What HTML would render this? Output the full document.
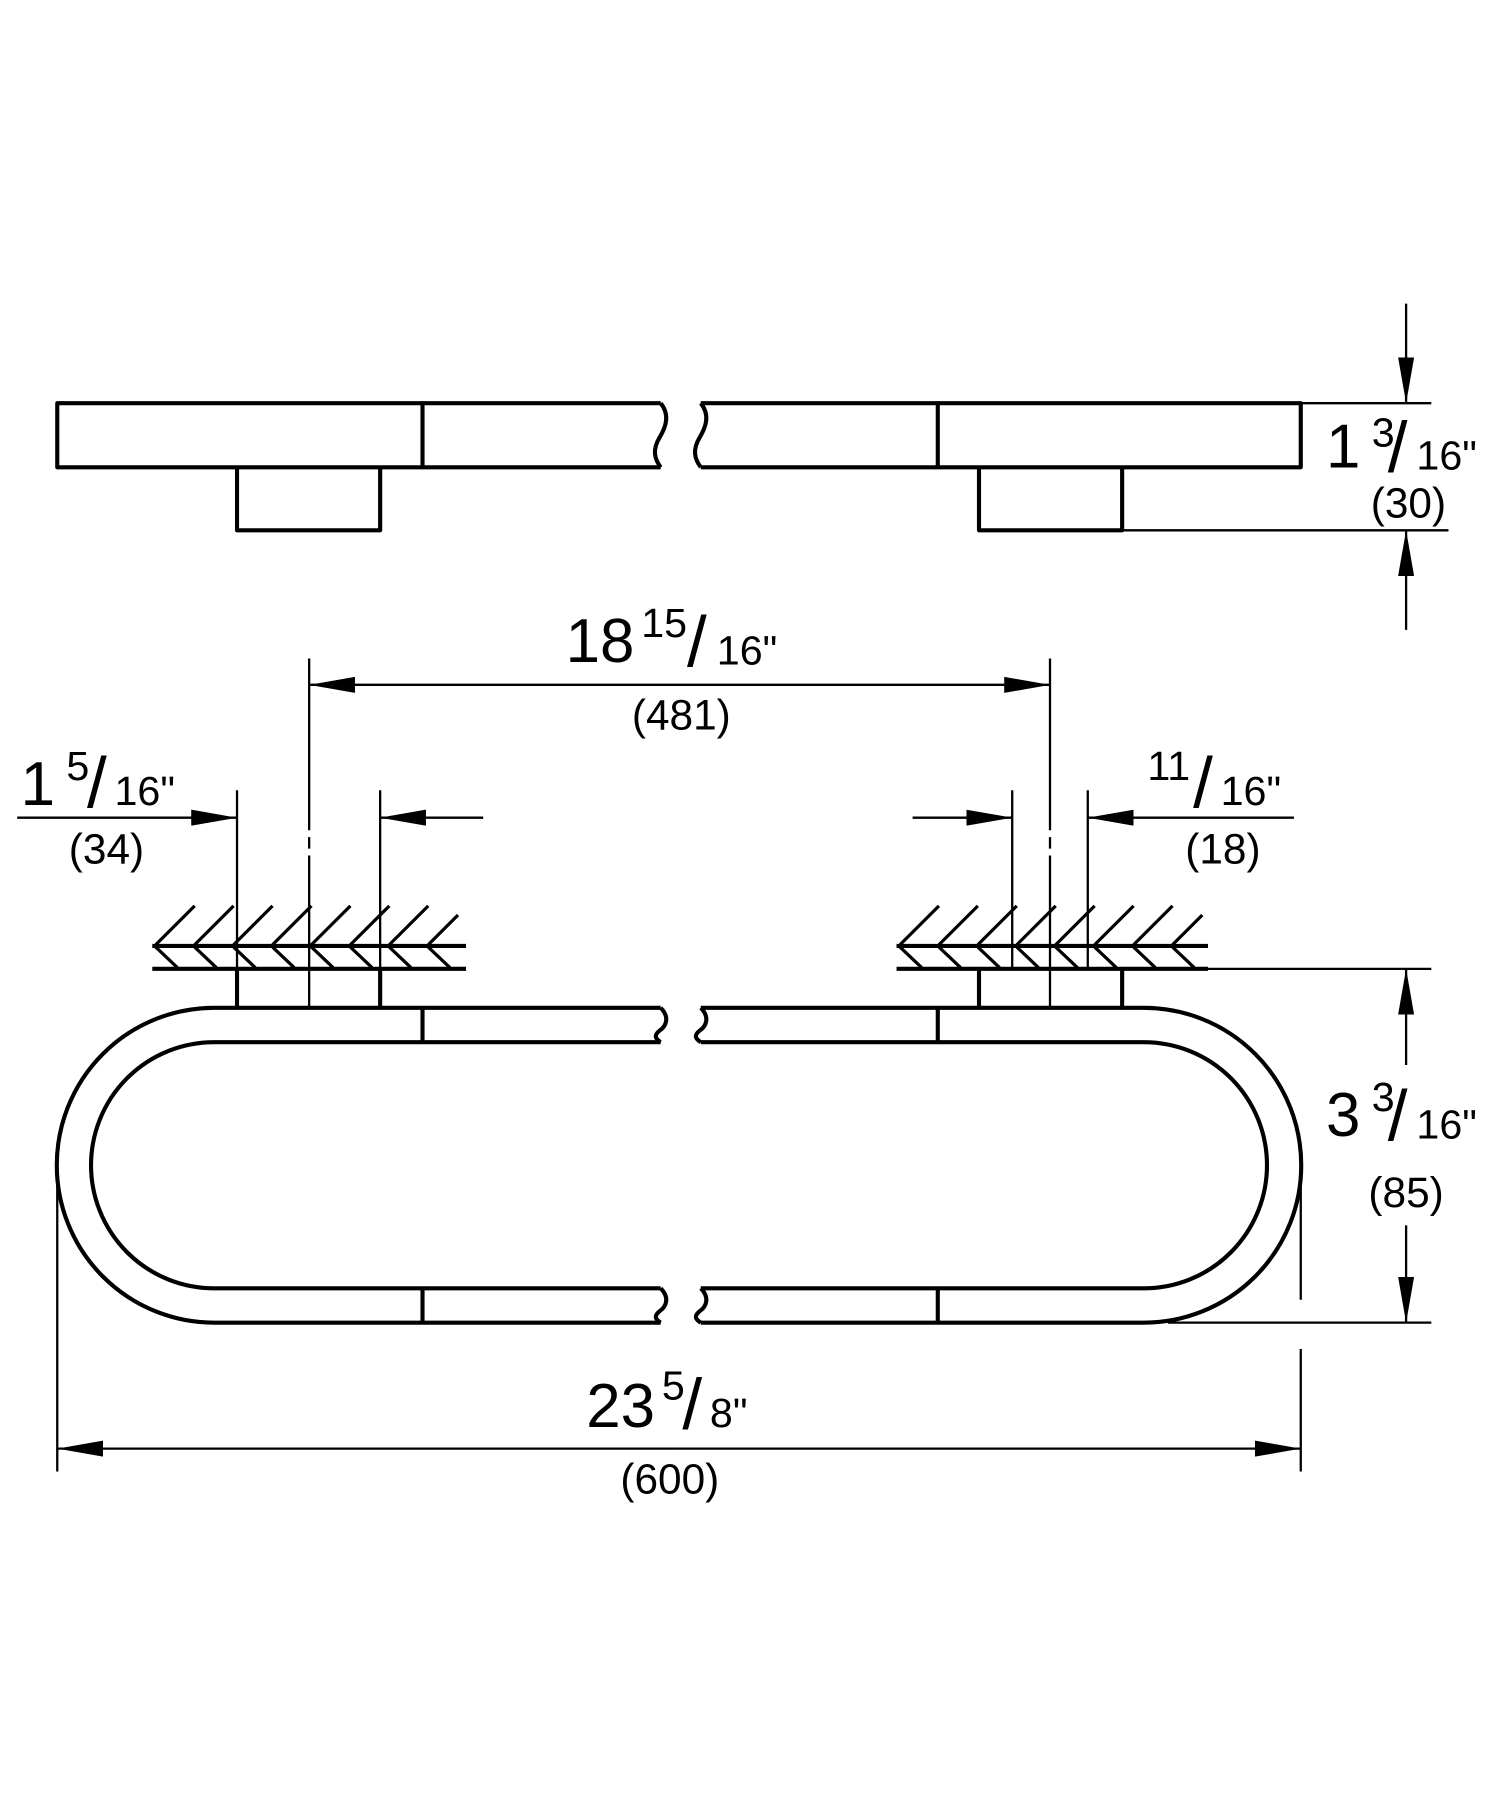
<!DOCTYPE html>
<html><head><meta charset="utf-8"><style>
html,body{margin:0;padding:0;background:#fff}
svg{display:block}
text{font-family:"Liberation Sans",sans-serif;fill:#000}
</style></head><body>
<svg width="1500" height="1798" viewBox="0 0 1310 1570" xmlns="http://www.w3.org/2000/svg">
<defs>
<marker id="a" viewBox="0 0 40 14" refX="40" refY="7" markerWidth="40" markerHeight="14" markerUnits="userSpaceOnUse" orient="auto"><path d="M0,0 L40,7 L0,14 z" fill="#000"/></marker>
</defs>
<g fill="none" stroke="#000" stroke-width="3.6" stroke-linejoin="round">
<path d="M577,352 L50,352 L50,408 L577,408"/>
<path d="M577,352 C585,362 582,372 576,382 C570,392 571,400 577,408"/>
<path d="M612,352 L1136,352 L1136,408 L612,408"/>
<path d="M612,352 C620,362 617,372 611,382 C605,392 606,400 612,408"/>
<line x1="369" y1="352" x2="369" y2="408"/>
<line x1="819" y1="352" x2="819" y2="408"/>
<path d="M207,408 L207,463 L332,463 L332,408"/>
<path d="M855,408 L855,463 L980,463 L980,408"/>
<path d="M207,846 L207,880 M332,846 L332,880"/>
<path d="M855,846 L855,880 M980,846 L980,880"/>
<path d="M577,880 L187,880 A137,137 0 0 0 187,1155 L577,1155"/>
<path d="M612,880 L999,880 A137,137 0 0 1 999,1155 L612,1155"/>
<path d="M577,910 L187,910 A107,107 0 0 0 187,1125 L577,1125"/>
<path d="M612,910 L999,910 A107,107 0 0 1 999,1125 L612,1125"/>
<path d="M577,880 C585,888 582,896 576,900 C571,904 572,907 577,910"/>
<path d="M612,880 C620,888 617,896 611,900 C606,904 607,907 612,910"/>
<path d="M577,1125 C585,1133 582,1141 576,1145 C571,1149 572,1152 577,1155"/>
<path d="M612,1125 C620,1133 617,1141 611,1145 C606,1149 607,1152 612,1155"/>
<line x1="369" y1="880" x2="369" y2="910"/>
<line x1="819" y1="880" x2="819" y2="910"/>
<line x1="369" y1="1125" x2="369" y2="1155"/>
<line x1="819" y1="1125" x2="819" y2="1155"/>
<line x1="133" y1="826" x2="407" y2="826"/>
<line x1="133" y1="846" x2="407" y2="846"/>
<line x1="783" y1="826" x2="1055" y2="826"/>
<line x1="783" y1="846" x2="1055" y2="846"/>
</g>
<g stroke="#000" stroke-width="2.8" fill="none">
<path d="M136,825 L170,791 M136,827 L155,845 M170,825 L204,791 M170,827 L189,845 M204,825 L238,791 M204,827 L223,845 M238,825 L272,791 M238,827 L257,845 M272,825 L306,791 M272,827 L291,845 M306,825 L340,791 M306,827 L325,845 M340,825 L374,791 M340,827 L359,845 M374,825 L400,799 M374,827 L393,845"/>
<path d="M786,825 L820,791 M786,827 L805,845 M820,825 L854,791 M820,827 L839,845 M854,825 L888,791 M854,827 L873,845 M888,825 L922,791 M888,827 L907,845 M922,825 L956,791 M922,827 L941,845 M956,825 L990,791 M956,827 L975,845 M990,825 L1024,791 M990,827 L1009,845 M1024,825 L1050,799 M1024,827 L1043,845"/>
</g>
<g stroke="#000" stroke-width="2" fill="none">
<line x1="1136" y1="352" x2="1250" y2="352"/>
<line x1="980" y1="463" x2="1265" y2="463"/>
<line x1="1228" y1="265" x2="1228" y2="352" marker-end="url(#a)"/>
<line x1="1228" y1="550" x2="1228" y2="463" marker-end="url(#a)"/>
<line x1="917" y1="598" x2="270" y2="598" marker-end="url(#a)"/>
<line x1="270" y1="598" x2="917" y2="598" marker-end="url(#a)"/>
<line x1="270" y1="575" x2="270" y2="880" stroke-dasharray="150,6,10,6"/>
<line x1="917" y1="575" x2="917" y2="880" stroke-dasharray="150,6,10,6"/>
<line x1="15" y1="714" x2="207" y2="714" marker-end="url(#a)"/>
<line x1="422" y1="714" x2="332" y2="714" marker-end="url(#a)"/>
<line x1="207" y1="690" x2="207" y2="846"/>
<line x1="332" y1="690" x2="332" y2="846"/>
<line x1="797" y1="714" x2="884" y2="714" marker-end="url(#a)"/>
<line x1="1130" y1="714" x2="950" y2="714" marker-end="url(#a)"/>
<line x1="884" y1="690" x2="884" y2="846"/>
<line x1="950" y1="690" x2="950" y2="846"/>
<line x1="1055" y1="846" x2="1250" y2="846"/>
<line x1="1020" y1="1155" x2="1250" y2="1155"/>
<line x1="1228" y1="930" x2="1228" y2="846" marker-end="url(#a)"/>
<line x1="1228" y1="1070" x2="1228" y2="1155" marker-end="url(#a)"/>
<line x1="50" y1="1030" x2="50" y2="1285"/>
<line x1="1136" y1="1030" x2="1136" y2="1135"/>
<line x1="1136" y1="1178" x2="1136" y2="1285"/>
<line x1="593" y1="1265" x2="50" y2="1265" marker-end="url(#a)"/>
<line x1="593" y1="1265" x2="1136" y2="1265" marker-end="url(#a)"/>
</g>
<g>
<text x="1158" y="408" font-size="54">1</text>
<text x="1198" y="390" font-size="36">3</text>
<text x="1212" y="412" font-size="62">/</text>
<text x="1237" y="410" font-size="36">16"</text>
<text x="1230" y="452" font-size="37" text-anchor="middle">(30)</text>

<text x="494" y="578" font-size="54">18</text>
<text x="560" y="556" font-size="36">15</text>
<text x="600" y="582" font-size="62">/</text>
<text x="626" y="580" font-size="36">16"</text>
<text x="595" y="637" font-size="37" text-anchor="middle">(481)</text>

<text x="18" y="703" font-size="54">1</text>
<text x="58" y="681" font-size="36">5</text>
<text x="76" y="705" font-size="62">/</text>
<text x="100" y="703" font-size="36">16"</text>
<text x="93" y="754" font-size="37" text-anchor="middle">(34)</text>

<text x="1002" y="681" font-size="36">11</text>
<text x="1042" y="705" font-size="62">/</text>
<text x="1066" y="703" font-size="36">16"</text>
<text x="1068" y="754" font-size="37" text-anchor="middle">(18)</text>

<text x="1158" y="992" font-size="54">3</text>
<text x="1198" y="970" font-size="36">3</text>
<text x="1212" y="996" font-size="62">/</text>
<text x="1237" y="994" font-size="36">16"</text>
<text x="1228" y="1054" font-size="37" text-anchor="middle">(85)</text>

<text x="512" y="1246" font-size="54">23</text>
<text x="578" y="1222" font-size="36">5</text>
<text x="596" y="1248" font-size="62">/</text>
<text x="620" y="1246" font-size="36">8"</text>
<text x="585" y="1304" font-size="37" text-anchor="middle">(600)</text>
</g>
</svg>
</body></html>
